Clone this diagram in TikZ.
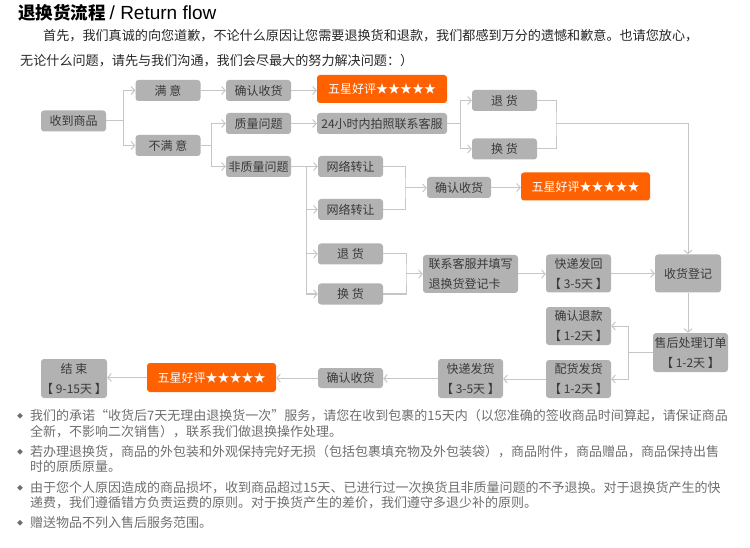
\documentclass[tikz,border=0pt]{standalone}
\usepackage{fontspec}
\setmainfont{Noto Sans CJK SC}
\newfontfamily\latinfont{Liberation Sans}
\usetikzlibrary{arrows.meta}
\definecolor{boxgray}{RGB}{178,178,178}
\definecolor{linegray}{RGB}{198,198,198}
\definecolor{starorange}{RGB}{255,96,0}
\definecolor{boxtext}{RGB}{58,58,58}
\definecolor{notegray}{RGB}{110,110,110}
\begin{document}
\begin{tikzpicture}[x=1pt,y=1pt,yscale=-1,
  gbox/.style={fill=boxgray,rounded corners=3pt,text=boxtext,inner sep=0pt,minimum width=65pt,minimum height=21pt,font=\fontsize{12}{20}\selectfont,align=center},
  obox/.style={fill=starorange,rounded corners=3pt,text=white,inner sep=0pt,minimum width=130pt,minimum height=28pt,font=\fontsize{12}{14}\selectfont},
  flow/.style={draw=linegray,line width=1pt,-{Straight Barb[length=3.5pt,width=8pt]}},
  link/.style={draw=linegray,line width=1pt},
  note/.style={anchor=west,inner sep=0pt,text=notegray,font=\fontsize{13}{15}\selectfont},
  bullet/.style={anchor=center,inner sep=0pt,text=notegray,font=\fontsize{6}{6}\selectfont}]
\useasboundingbox (0,0) rectangle (750,548);

% Title and intro
\node[anchor=west,inner sep=0pt,text=black] (title) at (18,13) {\fontsize{17.5}{20}\selectfont\bfseries 退换货流程 {\latinfont\mdseries\fontsize{19}{20}\selectfont / Return flow}};
\node[anchor=west,inner sep=0pt,text=black!85,font=\fontsize{13.1}{15}\selectfont] (intro1) at (43,35.5) {首先，我们真诚的向您道歉，不论什么原因让您需要退换货和退款，我们都感到万分的遗憾和歉意。也请您放心，};
\node[anchor=west,inner sep=0pt,text=black!85,font=\fontsize{13.1}{15}\selectfont] (intro2) at (20,61) {无论什么问题，请先与我们沟通，我们会尽最大的努力解决问题：）};

% Boxes, upper part
\node[gbox] (recv) at (73.5,121) {收到商品};
\node[gbox] (sat) at (168,90.5) {满 意};
\node[gbox] (unsat) at (168,145.5) {不满 意};
\node[gbox] (ok1) at (258.5,90.5) {确认收货};
\node[obox] (star1) at (382,89) {五星好评★★★★★};
\node[gbox] (qual) at (258.5,123.5) {质量问题};
\node[gbox,minimum width=130pt] (photo) at (382,123.5) {24小时内拍照联系客服};
\node[gbox] (nonq) at (258.5,166.5) {非质量问题};
\node[gbox] (ret1) at (504.5,100.5) {退 货};
\node[gbox] (exc1) at (504.5,149) {换 货};
\node[gbox] (net1) at (350.5,166.5) {网络转让};
\node[gbox] (net2) at (350.5,209.5) {网络转让};
\node[gbox,minimum width=64pt] (ok2) at (459,187.5) {确认收货};
\node[obox,minimum width=129pt] (star2) at (585.5,186.5) {五星好评★★★★★};

% Boxes, lower part
\node[gbox] (ret2) at (350.5,254) {退 货};
\node[gbox] (exc2) at (350.5,294) {换 货};
\node[gbox,minimum width=95pt,minimum height=38pt,align=left] (form) at (470.5,274) {联系客服并填写\\退换货登记卡};
\node[gbox,minimum height=38pt] (back) at (578.5,273.5) {快递发回\\【 3-5天 】};
\node[gbox,minimum width=66pt,minimum height=38pt] (reg) at (688,273.5) {收货登记};
\node[gbox,minimum width=75pt,minimum height=39pt] (order) at (690.5,352.5) {售后处理订单\\【 1-2天 】};
\node[gbox,minimum height=38pt] (refund) at (578.5,326) {确认退款\\【 1-2天 】};
\node[gbox,minimum height=38pt] (pick) at (578.5,379) {配货发货\\【 1-2天 】};
\node[gbox,minimum height=39pt] (ship) at (470.5,378.5) {快递发货\\【 3-5天 】};
\node[gbox,minimum height=20pt] (ok3) at (350.5,378) {确认收货};
\node[obox,minimum width=129pt,minimum height=29pt] (star3) at (211.5,377.5) {五星好评★★★★★};
\node[gbox,minimum width=66pt,minimum height=39pt] (done) at (74,378.5) {结 束\\【 9-15天 】};

% Junctions
\coordinate (j1) at (123,121);
\coordinate (j2) at (211,145.5);
\coordinate (j3) at (460,123.5);
\coordinate (j4) at (556,124);
\coordinate (j5) at (306,166.5);
\coordinate (j6) at (405,188);
\coordinate (j7) at (406,274);
\coordinate (j8) at (628,352.5);

% Connectors
\draw[link] (recv.east) -- (j1);
\draw[flow] (j1) |- (sat.west);
\draw[flow] (j1) |- (unsat.west);
\draw[flow] (sat.east) -- (sat.east -| ok1.west);
\draw[flow] (ok1.east) -- (ok1.east -| star1.west);
\draw[link] (unsat.east) -- (j2);
\draw[flow] (j2) |- (qual.west);
\draw[flow] (j2) |- (nonq.west);
\draw[flow] (qual.east) -- (photo.west);
\draw[link] (photo.east) -- (j3);
\draw[flow] (j3) |- (ret1.west);
\draw[flow] (j3) |- (exc1.west);
\draw[link] (ret1.east) -| (j4) |- (exc1.east);
\draw[flow] (j4) -| (reg.north);
\draw[link] (nonq.east) -- (j5);
\draw[flow] (j5) |- (net1.west);
\draw[flow] (j5) |- (net2.west);
\draw[flow] (j5) |- (ret2.west);
\draw[flow] (j5) |- (exc2.west);
\draw[link] (net1.east) -| (j6) |- (net2.east);
\draw[flow] (j6) -- (j6 -| ok2.west);
\draw[flow] (ok2.east) -- (ok2.east -| star2.west);
\draw[link] (ret2.east) -| (j7) |- (exc2.east);
\draw[flow] (j7) -- (j7 -| form.west);
\draw[flow] (form.east) -- (form.east -| back.west);
\draw[flow] (back.east) -- (back.east -| reg.west);
\draw[flow] (reg.south) -- (reg.south |- order.north);
\draw[link] (order.west) -- (j8);
\draw[flow] (j8) |- (refund.east);
\draw[flow] (j8) |- (pick.east);
\draw[flow] (pick.west) -- (pick.west -| ship.east);
\draw[flow] (ship.west) -- (ship.west -| ok3.east);
\draw[flow] (ok3.west) -- (ok3.west -| star3.east);
\draw[flow] (star3.west) -- (star3.west -| done.east);

% Notes
\node[bullet] (b1) at (20,416) {◆};
\node[note] (n1) at (30,416) {我们的承诺“收货后7天无理由退换货一次”服务，请您在收到包裹的15天内（以您准确的签收商品时间算起，请保证商品};
\node[note] (n2) at (30,432) {全新，不影响二次销售），联系我们做退换操作处理。};
\node[bullet] (b2) at (20,452) {◆};
\node[note] (n3) at (30,452) {若办理退换货，商品的外包装和外观保持完好无损（包括包裹填充物及外包装袋），商品附件，商品赠品，商品保持出售};
\node[note] (n4) at (30,467) {时的原质原量。};
\node[bullet] (b3) at (20,488) {◆};
\node[note] (n5) at (30,488) {由于您个人原因造成的商品损坏，收到商品超过15天、已进行过一次换货且非质量问题的不予退换。对于退换货产生的快};
\node[note] (n6) at (30,503) {递费，我们遵循错方负责运费的原则。对于换货产生的差价，我们遵守多退少补的原则。};
\node[bullet] (b4) at (20,523) {◆};
\node[note] (n7) at (30,523) {赠送物品不列入售后服务范围。};
\end{tikzpicture}
\end{document}
